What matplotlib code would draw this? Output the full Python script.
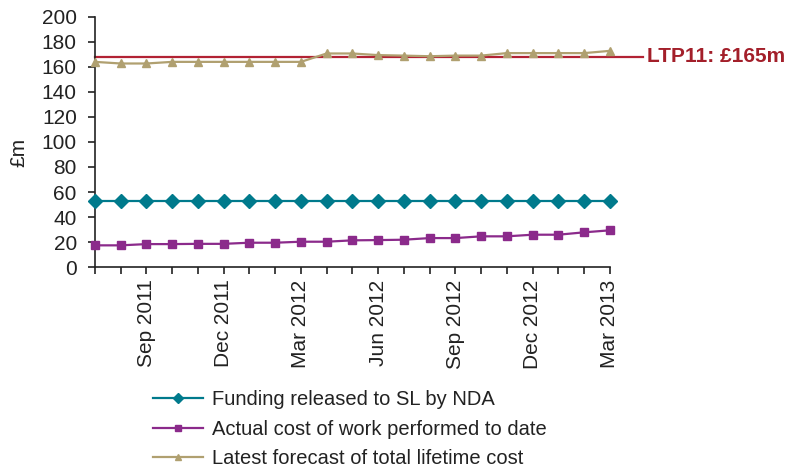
import numpy as np
import matplotlib
matplotlib.use("Agg")
import matplotlib.pyplot as plt

plt.rcParams['font.family'] = ['Liberation Sans', 'DejaVu Sans']

# monthly, Jul 2011 .. Mar 2013
MONTHS = ['Jul 2011', 'Aug 2011', 'Sep 2011', 'Oct 2011', 'Nov 2011', 'Dec 2011',
          'Jan 2012', 'Feb 2012', 'Mar 2012', 'Apr 2012', 'May 2012', 'Jun 2012',
          'Jul 2012', 'Aug 2012', 'Sep 2012', 'Oct 2012', 'Nov 2012', 'Dec 2012',
          'Jan 2013', 'Feb 2013', 'Mar 2013']
LABELLED = ['Sep 2011', 'Dec 2011', 'Mar 2012', 'Jun 2012', 'Sep 2012', 'Dec 2012', 'Mar 2013']

FUNDING = [53] * 21
ACTUAL = [17.4, 17.4, 18.4, 18.4, 18.6, 18.6, 19.5, 19.5, 20.3, 20.3, 21.4,
          21.6, 21.9, 23.2, 23.2, 24.6, 24.6, 25.9, 25.9, 27.8, 29.4]
FORECAST = [164, 162.7, 162.7, 164, 164, 164, 164, 164, 164, 170.7, 170.7,
            169.4, 169, 168.5, 169, 169, 171, 171, 171, 171, 172.8]
LTP11 = 168
LTP11_LABEL = 'LTP11: £165m'

SERIES = [
    ('Funding released to SL by NDA', FUNDING, '#007A8C', 'D', 7),
    ('Actual cost of work performed to date', ACTUAL, '#8B2A8B', 's', 5.5),
    ('Latest forecast of total lifetime cost', FORECAST, '#B0A070', '^', 5.5),
]

x = np.arange(len(MONTHS))

fig = plt.figure(figsize=(7.91, 4.67), dpi=100)
ax = fig.add_axes([0.120, 0.428, 0.651, 0.536])

for name, vals, col, mk, ms in SERIES:
    ax.plot(x, vals, color=col, marker=mk, markersize=ms, linewidth=1.6,
            label=name, clip_on=False, zorder=3)

# LTP11 reference line runs past the plot area to its label
ax.plot([0, 21.3], [LTP11, LTP11], color='#B22234', linewidth=1.6,
        clip_on=False, zorder=2)
ax.text(21.45, LTP11, LTP11_LABEL, color='#A31F2A', fontsize=15,
        fontweight='bold', va='center', ha='left')

ax.set_xlim(0, len(MONTHS) - 1)
ax.set_ylim(0, 200)
ax.set_yticks(range(0, 201, 20))
ax.set_xticks(x)
ax.set_xticklabels([m if m in LABELLED else '' for m in MONTHS], rotation=90,
                   fontsize=15)
ax.tick_params(axis='y', labelsize=15, direction='out', length=5, width=1.2, pad=8,
               colors='#222222')
ax.tick_params(axis='x', direction='out', length=5, width=1.2, pad=4,
               colors='#222222')
ax.set_ylabel('£m', fontsize=15, color='#222222')
ax.yaxis.set_label_coords(-0.13, 0.46)

for s in ['top', 'right']:
    ax.spines[s].set_visible(False)
for s in ['left', 'bottom']:
    ax.spines[s].set_linewidth(1.2)
    ax.spines[s].set_color('#222222')

leg = ax.legend(loc='upper left', bbox_to_anchor=(0.113, -0.491), frameon=False,
                fontsize=14.5, handlelength=2.5, handletextpad=0.4,
                labelspacing=0.53, markerscale=0.7, borderaxespad=0, borderpad=0)
for t in leg.get_texts():
    t.set_color('#222222')

fig.savefig('out.png', dpi=100)
